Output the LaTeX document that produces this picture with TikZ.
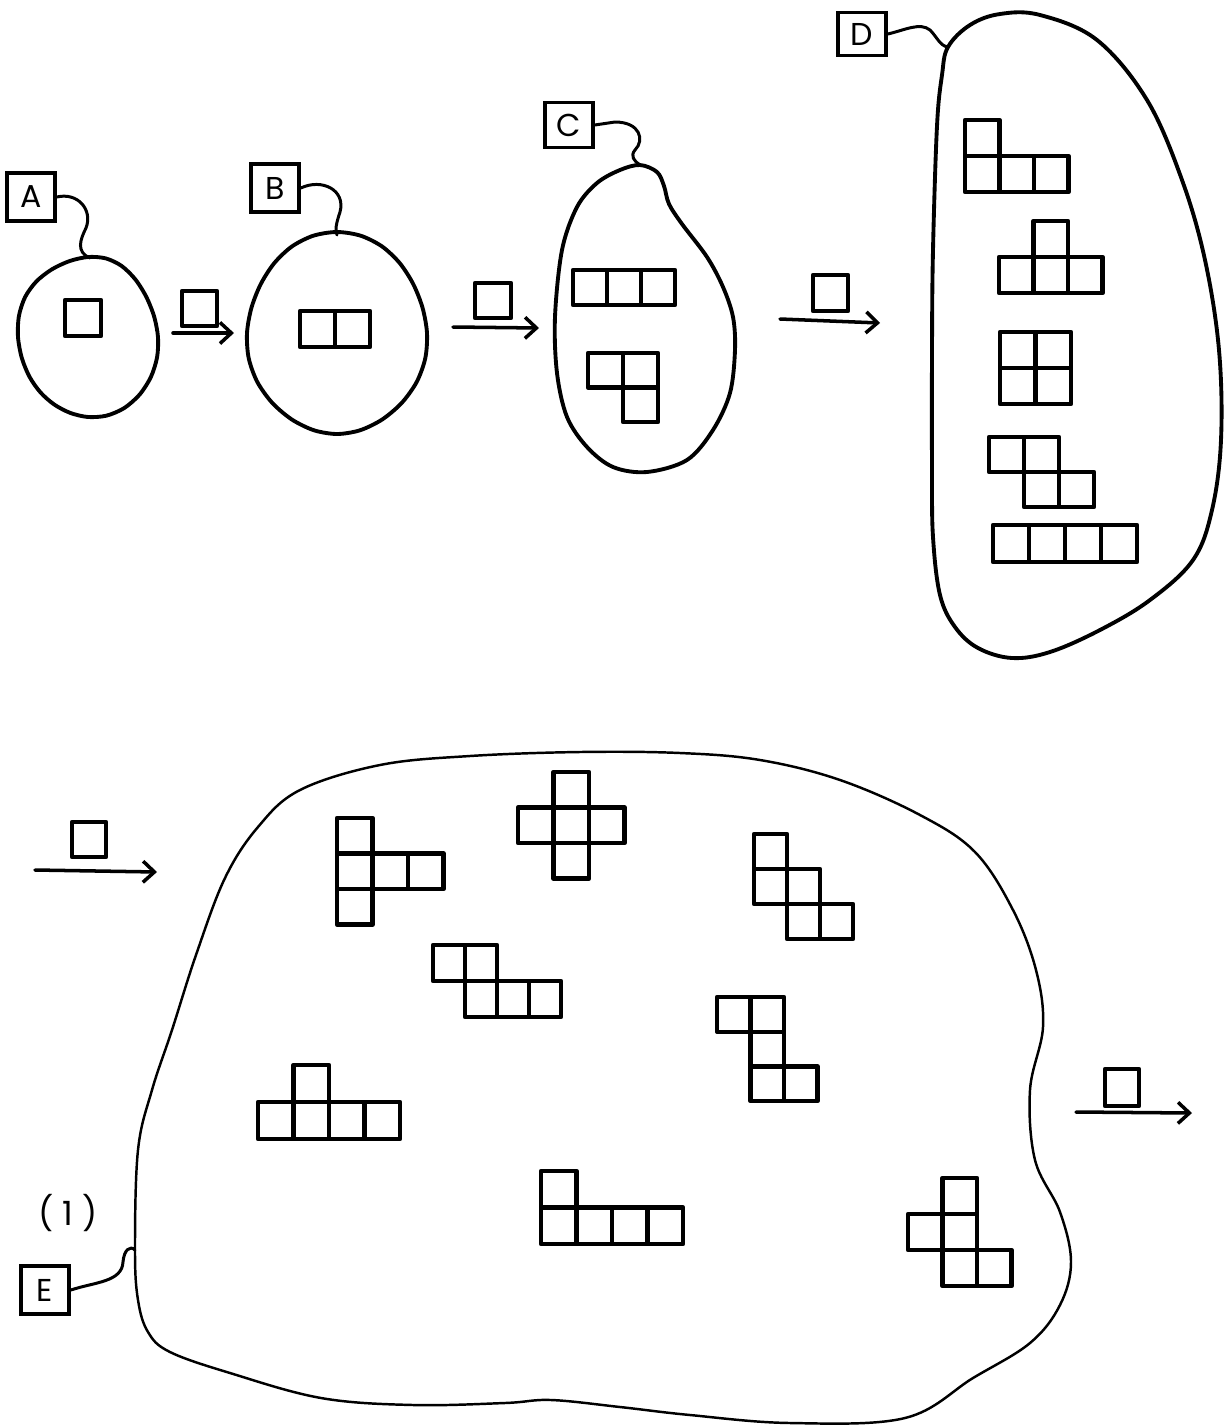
\documentclass[tikz,border=0pt]{standalone}
\usepackage{fontspec}
\setmainfont{Poppins}
\usetikzlibrary{arrows.meta}
% one unit = one drawing pixel, y grows downwards
\tikzset{
  blob/.style={line width=2.2pt, line cap=round, line join=round},
  bigblob/.style={line width=1.4pt, line cap=round, line join=round},
  tile/.style={line width=2.5pt, line cap=round, line join=round},
  tag/.style={draw, line width=2.1pt, inner sep=0pt, minimum width=0.96cm,
    minimum height=0.96cm, font=\fontsize{18}{18}\selectfont},
  lead/.style={line width=1.7pt, line cap=round},
  move/.style={line width=2pt, line cap=round,
    -{Straight Barb[length=6.5pt,width=12pt]}},
}
% polyomino: origin x, origin y, cell width, cell height, list of column/row
\newcommand\polyo[5]{\foreach \i/\j in {#5}
  \draw[tile] ({#1+\i*#3},{#2+\j*#4}) rectangle ++(#3,#4);}
\begin{document}
\begin{tikzpicture}[x=0.02cm, y=-0.02cm]
\useasboundingbox[fill=white] (0,0) rectangle (1225,1427);

% ---------- stage A ----------
\node[tag] (A) at (31,197) {A};
\coordinate (Aatt) at (90,258);
\draw[blob] plot[smooth cycle, domain=0:345, samples=24]
  ({88+(70+3*sin(2*\x))*cos(\x)}, {337+(80-2*cos(3*\x))*sin(\x)});
\draw[lead] (A.east) .. controls (78,192) and (93,210) .. (86,228)
  .. controls (80,240) and (76,252) .. (Aatt);
\draw[tile] (65,300) rectangle (101,336);

\coordinate (a1s) at (173,333); \coordinate (a1e) at (234,333);
\draw[move] (a1s) -- (a1e);
\draw[tile] (182,291) rectangle (217,326);

% ---------- stage B ----------
\node[tag] (B) at (275,188) {B};
\coordinate (Batt) at (337,235);
\draw[blob] plot[smooth cycle, domain=0:345, samples=24]
  ({337+(90+2*sin(3*\x))*cos(\x)}, {333+(99-2*cos(2*\x))*sin(\x)});
\draw[lead] (B.east) .. controls (322,178) and (346,190) .. (340,212)
  .. controls (336,224) and (335,230) .. (Batt);
\polyo{300}{311}{35}{36}{0/0,1/0}

\coordinate (a2s) at (453,327); \coordinate (a2e) at (539,328);
\draw[move] (a2s) -- (a2e);
\draw[tile] (475,283) rectangle (511,318);

% ---------- stage C ----------
\node[tag, minimum height=0.9cm] (C) at (569,125) {C};
\coordinate (Catt) at (640,165);
\draw[blob] plot[smooth cycle, tension=0.55] coordinates {(640,165) (657,172)
  (664,186) (669,204) (682,224) (707,257) (723,287) (733,317) (735,350)
  (730,393) (713,430) (687,460) (647,472) (613,467) (587,447) (567,417)
  (557,373) (555,317) (562,250) (577,207) (597,183) (620,170)};
\draw[lead] (C.east) -- (615,122) .. controls (640,122) and (645,140) .. (635,150)
  .. controls (630,156) and (634,161) .. (Catt);
\polyo{573}{270}{34}{35}{0/0,1/0,2/0}
\polyo{588}{353}{35}{34.5}{0/0,1/0,1/1}

\coordinate (a3s) at (780,319); \coordinate (a3e) at (880,323);
\draw[move] (a3s) -- (a3e);
\draw[tile] (813,275) rectangle (848,311);

% ---------- stage D ----------
\node[tag, minimum height=0.86cm] (D) at (862,34) {D};
\coordinate (Datt) at (948,47);
\draw[blob] plot[smooth cycle, tension=0.6] coordinates {(948,47) (970,25)
  (1000,14) (1040,15) (1097,40) (1147,100) (1182,180) (1205,260) (1219,350)
  (1221,440) (1212,510) (1193,560) (1150,600) (1100,630) (1050,652)
  (1012,658) (978,648) (955,627) (940,595) (933,537) (932,470) (932,350)
  (933,250) (937,126) (942,75)};
\draw[lead] (D.east) .. controls (905,30) and (920,22) .. (930,30)
  .. controls (937,37) and (940,46) .. (Datt);
\polyo{965}{120}{34.5}{36}{0/0,0/1,1/1,2/1}
\polyo{999}{221}{34.5}{36}{1/0,0/1,1/1,2/1}
\polyo{1000}{332}{35.5}{36}{0/0,1/0,0/1,1/1}
\polyo{989}{437}{35}{35}{0/0,1/0,1/1,2/1}
\polyo{993}{525}{36}{37}{0/0,1/0,2/0,3/0}

% ---------- stage E ----------
\coordinate (a4s) at (35,870); \coordinate (a4e) at (157,872);
\draw[move] (a4s) -- (a4e);
\draw[tile] (72,822) rectangle (106,857);

\node[tag] (E) at (45,1290) {E};
\node[font=\fontsize{19}{19}\selectfont] (num) at (68,1213) {( 1 )};
\coordinate (Eatt) at (135,1250);
\draw[bigblob] plot[smooth cycle, tension=0.6] coordinates {(135,1250)
  (138,1150) (152,1090) (172,1030) (196,955) (225,878) (258,827)
  (300,790) (380,765) (470,756) (580,752) (680,753) (760,760)
  (840,780) (920,815) (975,852) (1013,910) (1036,970) (1043,1027)
  (1030,1090) (1035,1160) (1060,1212) (1071,1262) (1060,1305)
  (1030,1343) (973,1378) (905,1418) (790,1423) (690,1415) (620,1407)
  (551,1400) (505,1403) (413,1405) (321,1398) (230,1373) (170,1352)
  (148,1332) (138,1300)};
\draw[lead] (E.east) .. controls (95,1282) and (122,1282) .. (123,1262)
  .. controls (124,1250) and (130,1245) .. (Eatt);

\polyo{337}{818}{35.5}{35.5}{0/0,0/1,1/1,2/1,0/2}
\polyo{518}{772}{35.5}{35.5}{1/0,0/1,1/1,2/1,1/2}
\polyo{433}{945}{32}{36}{0/0,1/0,1/1,2/1,3/1}
\polyo{754}{834}{33}{35}{0/0,0/1,1/1,1/2,2/2}
\polyo{717}{997}{33.5}{34.7}{0/0,1/0,1/1,1/2,2/2}
\polyo{258}{1065}{35.5}{37}{1/0,0/1,1/1,2/1,3/1}
\polyo{541}{1171}{35.5}{36.5}{0/0,0/1,1/1,2/1,3/1}
\polyo{908}{1178}{34.5}{36}{1/0,0/1,1/1,1/2,2/2}

\coordinate (a5s) at (1076,1112); \coordinate (a5e) at (1192,1113);
\draw[move] (a5s) -- (a5e);
\draw[tile] (1105,1069) rectangle (1139,1106);
\end{tikzpicture}
\end{document}
